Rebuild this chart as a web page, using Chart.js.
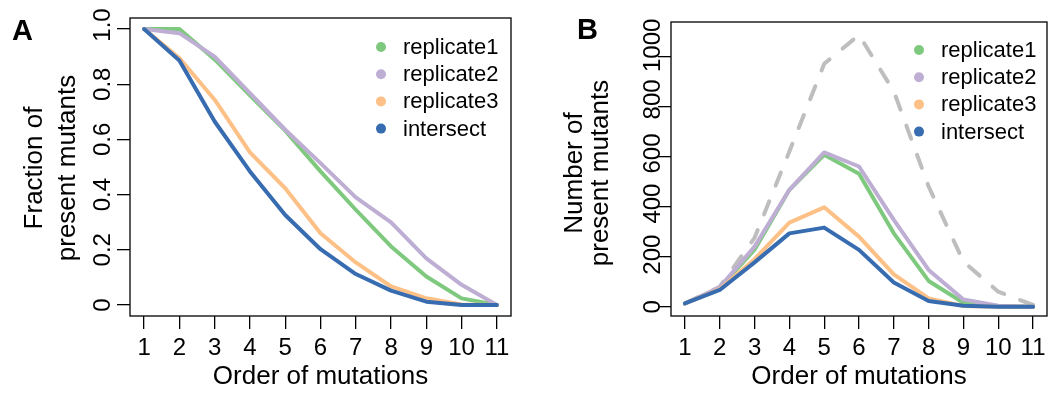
<!DOCTYPE html>
<html lang="en">
<head>
<meta charset="utf-8">
<script src="https://cdn.jsdelivr.net/npm/chart.js"></script>
<style>
  body { margin: 0; background: #fff; }
  #wrap { display: flex; width: 1051px; height: 394px; }
  canvas { display: block; }
</style>
</head>
<body>
<div id="wrap">
  <canvas id="chartA" width="525" height="394"></canvas>
  <canvas id="chartB" width="526" height="394"></canvas>
</div>
<script>
    // x axis: order of mutations
    const orders = [1, 2, 3, 4, 5, 6, 7, 8, 9, 10, 11];
    const orderLabels = ['1', '2', '3', '4', '5', '6', '7', '8', '9', '10', '11'];

    // panel A: fraction of present mutants
    const fracRep1  = [1.0, 1.0,   0.89,  0.76,  0.632, 0.484, 0.345, 0.212, 0.103, 0.024, 0.0];
    const fracRep2  = [1.0, 0.985, 0.90,  0.768, 0.635, 0.514, 0.39,  0.299, 0.169, 0.073, 0.0];
    const fracRep3  = [1.0, 0.895, 0.744, 0.553, 0.423, 0.26,  0.154, 0.067, 0.024, 0.002, 0.0];
    const fracInter = [1.0, 0.886, 0.665, 0.484, 0.326, 0.202, 0.112, 0.052, 0.012, 0.0,   0.0];
    const fracTicks = [0, 0.2, 0.4, 0.6, 0.8, 1.0];
    const fracTickLabels = ['0', '0.2', '0.4', '0.6', '0.8', '1.0'];

    // panel B: number of present mutants
    const numRep1  = [13, 75, 228, 467, 607, 531, 293, 103, 16, 2, 0];
    const numRep2  = [13, 78, 240, 467, 616, 560, 347, 147, 29, 4, 0];
    const numRep3  = [13, 70, 190, 336, 397, 280, 129, 33, 3, 0, 0];
    const numInter = [13, 67, 177, 293, 316, 227, 97, 23, 4, 0, 0];
    const numTotal = [13, 80, 275, 620, 970, 1085, 860, 480, 180, 60, 7];
    const numTicks = [0, 200, 400, 600, 800, 1000];
    const numTickLabels = ['0', '200', '400', '600', '800', '1000'];

    const colors = ['#7FC97F', '#BEAED4', '#FDC086', '#386CB0'];
    const FONT = '"Liberation Sans", Arial, Helvetica, sans-serif';

    const pts = arr => orders.map((o, i) => ({x: o, y: arr[i]}));

    function lineSet(label, values, color, order) {
        return {
            label: label,
            data: pts(values),
            borderColor: color,
            backgroundColor: color,
            borderWidth: 4,
            borderCapStyle: 'round',
            borderJoinStyle: 'round',
            pointRadius: 0,
            tension: 0,
            order: order
        };
    }

    // R-style frame, rotated y labels, titles, panel letter and legend
    const rPlot = {
        id: 'rPlot',
        afterDraw(chart, args, o) {
            const ctx = chart.ctx;
            const a = chart.chartArea;
            const y = chart.scales.y;
            ctx.save();
            ctx.strokeStyle = '#000';
            ctx.lineWidth = 1.3;
            ctx.strokeRect(a.left, a.top, a.right - a.left, a.bottom - a.top);

            ctx.fillStyle = '#000';
            ctx.textAlign = 'center';
            ctx.textBaseline = 'alphabetic';
            ctx.font = '24px ' + FONT;
            o.ticks.forEach((v, i) => {
                ctx.save();
                ctx.translate(o.tickX, y.getPixelForValue(v) - (o.tickShift[i] || 0));
                ctx.rotate(-Math.PI / 2);
                ctx.fillText(o.tickLabels[i], 0, 0);
                ctx.restore();
            });

            ctx.font = '26px ' + FONT;
            o.title.forEach((t, i) => {
                ctx.save();
                ctx.translate(o.titleX[i], o.titleY);
                ctx.rotate(-Math.PI / 2);
                ctx.fillText(t, 0, 0);
                ctx.restore();
            });

            ctx.textAlign = 'left';
            ctx.font = 'bold 29px ' + FONT;
            ctx.fillText(o.letter, o.letterX, o.letterY);

            // legend
            ctx.font = '22px ' + FONT;
            ctx.textBaseline = 'middle';
            let row = 0;
            chart.data.datasets.forEach(ds => {
                if (!ds.inLegend) return;
                const cy = o.legY + row * o.legStep;
                ctx.fillStyle = ds.borderColor;
                ctx.beginPath();
                ctx.arc(o.legX, cy, 5, 0, Math.PI * 2);
                ctx.fill();
                ctx.fillStyle = '#000';
                ctx.fillText(ds.label, o.legX + 22, cy + 1);
                row++;
            });
            ctx.restore();
        }
    };

    function makeChart(id, sets, yMin, yMax, yTicks, yWidth, pad, plug) {
        return new Chart(document.getElementById(id), {
            type: 'line',
            data: { datasets: sets },
            options: {
                responsive: false,
                animation: false,
                layout: { padding: pad },
                plugins: { legend: { display: false }, tooltip: { enabled: false }, rPlot: plug },
                scales: {
                    x: {
                        type: 'linear',
                        min: 0.6,
                        max: 11.4,
                        afterBuildTicks: s => { s.ticks = orders.map(v => ({value: v})); },
                        afterFit: s => { s.height = 78; },
                        ticks: {
                            autoSkip: false,
                            maxRotation: 0,
                            minRotation: 0,
                            padding: 5,
                            color: '#000',
                            font: { family: FONT, size: 24 },
                            callback: (v, i) => orderLabels[i]
                        },
                        grid: { drawOnChartArea: false, drawTicks: true, tickLength: 13, color: '#000', lineWidth: 1.3 },
                        border: { display: false },
                        title: {
                            display: true,
                            text: 'Order of mutations',
                            color: '#000',
                            font: { family: FONT, size: 26 },
                            padding: { top: 0, bottom: 2 }
                        }
                    },
                    y: {
                        type: 'linear',
                        min: yMin,
                        max: yMax,
                        afterBuildTicks: s => { s.ticks = yTicks.map(v => ({value: v})); },
                        afterFit: s => { s.width = yWidth; },
                        ticks: { display: false },
                        grid: { drawOnChartArea: false, drawTicks: true, tickLength: 13, color: '#000', lineWidth: 1.3 },
                        border: { display: false }
                    }
                }
            },
            plugins: [rPlot]
        });
    }

    const setsA = [
        lineSet('replicate1', fracRep1, colors[0], 4),
        lineSet('replicate2', fracRep2, colors[1], 3),
        lineSet('replicate3', fracRep3, colors[2], 2),
        lineSet('intersect', fracInter, colors[3], 1)
    ];
    setsA.forEach(d => d.inLegend = true);

    const setsB = [
        lineSet('replicate1', numRep1, colors[0], 4),
        lineSet('replicate2', numRep2, colors[1], 3),
        lineSet('replicate3', numRep3, colors[2], 2),
        lineSet('intersect', numInter, colors[3], 1),
        Object.assign(lineSet('all', numTotal, '#BEBEBE', 5), { borderDash: [14, 17] })
    ];
    setsB.slice(0, 4).forEach(d => d.inLegend = true);

    makeChart('chartA', setsA, -0.04, 1.04, fracTicks, 130, { top: 18, right: 14 }, {
        ticks: fracTicks, tickLabels: fracTickLabels, tickShift: [0, 0, 0, 0, 0, 4], tickX: 110,
        title: ['Fraction of', 'present mutants'], titleX: [42, 75], titleY: 168,
        letter: 'A', letterX: 12, letterY: 40,
        legX: 381, legY: 47, legStep: 27.2
    });

    makeChart('chartB', setsB, -37, 1137, numTicks, 146, { top: 22, right: 4 }, {
        ticks: numTicks, tickLabels: numTickLabels, tickShift: [0, 2, 3, 3, 7, 11], tickX: 135,
        title: ['Number of', 'present mutants'], titleX: [57, 83], titleY: 173,
        letter: 'B', letterX: 52, letterY: 39,
        legX: 394, legY: 50, legStep: 27.2
    });
</script>
</body>
</html>
